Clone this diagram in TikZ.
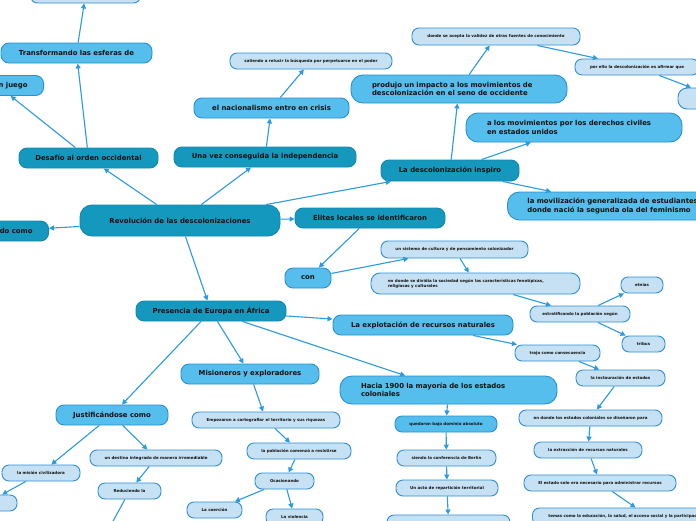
\documentclass[tikz,border=0pt]{standalone}
\usepackage{fontspec}
\setmainfont{DejaVu Sans}
\usetikzlibrary{arrows.meta}
\definecolor{dkfill}{HTML}{1598BE}
\definecolor{dkline}{HTML}{1487B0}
\definecolor{mdfill}{HTML}{56BEEC}
\definecolor{mdline}{HTML}{2A8FD0}
\definecolor{ltfill}{HTML}{C6E0F4}
\definecolor{ltline}{HTML}{2F8FD3}
\definecolor{arr}{HTML}{2C9AE0}
\definecolor{txt}{HTML}{111111}
\begin{document}
\begin{tikzpicture}[x=1pt,y=-1pt,
 base/.style={rounded corners=8pt, line width=0.9pt, inner sep=0pt, align=center, text=txt},
 dk/.style={base, fill=dkfill, draw=dkline, font=\bfseries\fontsize{6.9}{8.3}\selectfont, minimum height=20pt},
 md/.style={base, fill=mdfill, draw=mdline, font=\bfseries\fontsize{6.9}{8.3}\selectfont, minimum height=20pt},
 lt/.style={base, fill=ltfill, draw=ltline, font=\bfseries\fontsize{4}{4.8}\selectfont, minimum height=16pt, rounded corners=7pt},
 ltm/.style={lt, fill=mdfill, draw=mdline},
 conn/.style={draw=arr, line width=1.1pt, -{Triangle[length=5pt,width=5pt]}},
]
\useasboundingbox[fill=white] (0,0) rectangle (696,520);
% nodes
\node[lt, minimum width=110pt] (top) at (85.5,-5) {};
\node[md, minimum width=151pt] (transf) at (76.5,53) {Transformando las esferas de};
\node[md, anchor=east, text width=60pt, align=right, inner xsep=16pt] (juego) at (44,85.5) {n juego};
\node[dk, minimum width=139pt] (desafio) at (88.5,158) {Desafío al orden occidental};
\node[dk, anchor=east, text width=60pt, align=right, inner xsep=16pt] (como) at (49,231) {do como};
\node[dk, minimum width=200pt, minimum height=31pt, rounded corners=12pt] (rev) at (180,220.5) {Revolución de las descolonizaciones};
\node[dk, minimum width=182pt] (unavez) at (265,157) {Una vez conseguida la independencia};
\node[md, minimum width=155pt] (nacion) at (271.5,108) {el nacionalismo entro en crisis};
\node[lt, minimum width=162pt] (saliendo) at (311,61) {saliendo a relucir la búsqueda por perpetuarse en el poder};
\node[md, text width=174pt, align=left, inner xsep=21pt, minimum height=28pt, rounded corners=12pt] (produjo) at (459,89) {produjo un impacto a los movimientos de\\descolonización en el seno de occidente};
\node[lt, minimum width=168pt, minimum height=17pt] (acepta) at (496,36.5) {donde se acepta la validez de otras fuentes de conocimiento};
\node[lt, minimum width=124pt] (porello) at (637,67) {por ello la descolonización es afirmar que};
\node[lt, minimum width=84pt, minimum height=21pt, rounded corners=9pt] (rcut) at (720,98.5) {};
\node[md, text width=174pt, align=left, inner xsep=21pt, minimum height=29pt, rounded corners=12pt] (civiles) at (574,127.5) {a los movimientos por los derechos civiles\\en estados unidos};
\node[dk, minimum width=138pt, minimum height=21pt] (inspiro) at (450,170.5) {La descolonización inspiro};
\node[md, anchor=west, text width=186pt, align=left, inner xsep=20pt, minimum height=28pt, rounded corners=12pt] (moviliz) at (507,206) {la movilización generalizada de estudiantes\\donde nació la segunda ola del feminismo};
\node[dk, minimum width=150pt] (elites) at (370,218) {Elites locales se identificaron};
\node[md, minimum width=46pt] (con) at (308,278) {con};
\node[lt, minimum width=147pt, minimum height=17pt] (sistema) at (454.5,249.5) {un sistema de cultura y de pensamiento colonizador};
\node[lt, text width=175pt, align=left, inner xsep=17pt, minimum height=21pt, rounded corners=9pt] (dividia) at (475.5,283.5) {en donde se dividía la sociedad según las características fenotípicas,\\religiosas y culturales};
\node[lt, minimum width=42pt] (etnias) at (642,285) {etnias};
\node[lt, minimum width=100pt] (estrat) at (580,314) {estratificando la población según};
\node[lt, minimum width=43pt] (tribus) at (643.5,344) {tribus};
\node[lt, minimum width=85pt] (trajo) at (557.5,353) {trajo como consecuencia};
\node[lt, minimum width=89pt] (instaur) at (620.5,378) {la instauración de estados};
\node[dk, minimum width=150pt] (presencia) at (211,311) {Presencia de Europa en África};
\node[md, minimum width=180pt] (explot) at (423,325) {La explotación de recursos naturales};
\node[md, text width=175pt, align=left, inner xsep=21pt, minimum height=28pt, rounded corners=12pt] (hacia) at (448.5,390) {Hacia 1900 la mayoría de los estados\\coloniales};
\node[md, minimum width=138pt] (misio) at (250,374) {Misioneros y exploradores};
\node[md, minimum width=112pt] (justif) at (112,415) {Justificándose como};
\node[lt, minimum width=148pt] (cartog) at (266,420) {Empezaron a cartografiar el territorio y sus riquezas};
\node[lt, minimum width=104pt] (resist) at (299,451) {la población comenzó a resistirse};
\node[lt, minimum width=59pt] (ocasion) at (284.5,481) {Ocasionando};
\node[lt, minimum width=55pt] (coerc) at (214.5,510) {La coerción};
\node[lt, minimum width=57pt] (violen) at (294.5,517) {La violencia};
\node[lt, minimum width=132pt] (destino) at (156,458) {un destino integrado de manera irremediable};
\node[lt, minimum width=78pt] (mision) at (41,473) {la misión civilizadora};
\node[lt, minimum width=63pt] (reduc) at (129.5,491) {Reduciendo la};
\node[lt, minimum width=60pt] (lcut) at (-13,503) {};
\node[ltm, minimum width=102pt] (quedaron) at (446,424) {quedaron bajo dominio absoluto};
\node[lt, minimum width=99pt] (berlin) at (446.5,458) {siendo la conferencia de Berlín};
\node[lt, minimum width=102pt] (acto) at (447,488) {Un acto de repartición territorial};
\node[lt, minimum width=123pt] (bcut) at (448.5,523) {};
\node[lt, minimum width=143pt] (disen) at (590.5,418) {en donde los estados coloniales se diseñaron para};
\node[lt, minimum width=108pt] (extrac) at (588,450) {la extracción de recursos naturales};
\node[lt, minimum width=152pt] (admin) at (600,483) {El estado solo era necesario para administrar recursos};
\node[lt, anchor=west, text width=200pt, align=left, inner xsep=16pt, minimum height=17pt] (temas) at (532,516.5) {temas como la educación, la salud, el acceso social y la participación};
\coordinate (below) at (100,545);
% connectors
\draw[conn] (rev) -- (desafio);
\draw[conn] (rev) -- (unavez);
\draw[conn] (rev) -- (inspiro);
\draw[conn] (rev) -- (como);
\draw[conn] (rev) -- (elites);
\draw[conn] (rev) -- (presencia);
\draw[conn] (desafio) -- (juego);
\draw[conn] (desafio) -- (transf);
\draw[conn] (transf) -- (top);
\draw[conn] (unavez) -- (nacion);
\draw[conn] (nacion) -- (saliendo);
\draw[conn] (inspiro) -- (produjo);
\draw[conn] (inspiro) -- (civiles);
\draw[conn] (inspiro) -- (moviliz);
\draw[conn] (produjo) -- (acepta);
\draw[conn] (acepta) -- (porello);
\draw[conn] (porello) -- (rcut);
\draw[conn] (elites) -- (con);
\draw[conn] (con) -- (sistema);
\draw[conn] (sistema) -- (dividia);
\draw[conn] (dividia) -- (estrat);
\draw[conn] (estrat) -- (etnias);
\draw[conn] (estrat) -- (tribus);
\draw[conn] (presencia) -- (explot);
\draw[conn] (presencia) -- (hacia);
\draw[conn] (presencia) -- (misio);
\draw[conn] (presencia) -- (justif);
\draw[conn] (explot) -- (trajo);
\draw[conn] (trajo) -- (instaur);
\draw[conn] (instaur) -- (disen);
\draw[conn] (disen) -- (extrac);
\draw[conn] (extrac) -- (admin);
\draw[conn] (admin) -- (temas);
\draw[conn] (hacia) -- (quedaron);
\draw[conn] (quedaron) -- (berlin);
\draw[conn] (berlin) -- (acto);
\draw[conn] (acto) -- (bcut);
\draw[conn] (misio) -- (cartog);
\draw[conn] (cartog) -- (resist);
\draw[conn] (resist) -- (ocasion);
\draw[conn] (ocasion) -- (coerc);
\draw[conn] (ocasion) -- (violen);
\draw[conn] (justif) -- (destino);
\draw[conn] (justif) -- (mision);
\draw[conn] (destino) -- (reduc);
\draw[conn] (mision) -- (lcut);
\draw[conn] (reduc) -- (below);
\end{tikzpicture}
\end{document}
